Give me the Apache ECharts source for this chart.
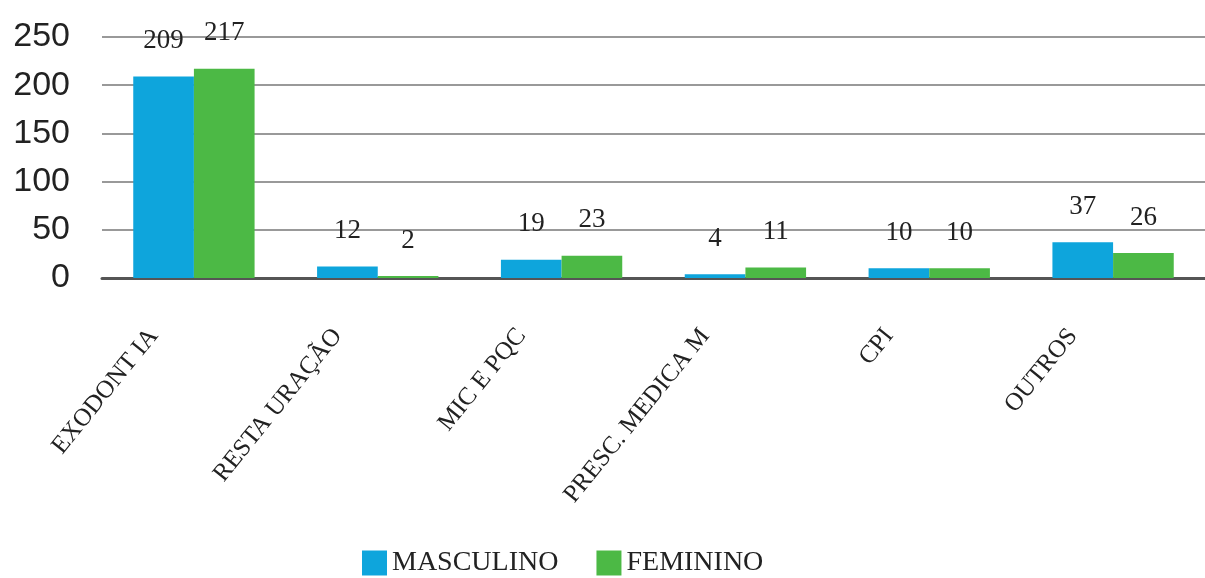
<!DOCTYPE html>
<html>
<head>
<meta charset="utf-8">
<script src="https://cdn.jsdelivr.net/npm/echarts@6/dist/echarts.min.js"></script>
<style>
  html, body { margin: 0; padding: 0; background: #fff; }
</style>
</head>
<body>
<div id="main" style="width: 1205px; height: 578px"></div>
<script>
// data
const categories = ["EXODONT IA", "RESTA URAÇÃO", "MIC E PQC", "PRESC. MEDICA M", "CPI", "OUTROS"];
const masculino = [209, 12, 19, 4, 10, 37];
const feminino = [217, 2, 23, 11, 10, 26];
const yTicks = [0, 50, 100, 150, 200, 250];

let labelStyle = {
  show: true,
  position: "top",
  distance: 22,
  fontFamily: "Liberation Serif",
  fontSize: 27,
  color: "#222"
};

let option = {
  animation: false,
  grid: { left: 102, right: 0, top: 37, bottom: 300 },
  legend: {
    bottom: -4,
    left: 357,
    itemWidth: 25,
    itemHeight: 25,
    itemGap: 38,
    icon: "rect",
    textStyle: { fontFamily: "Liberation Serif", fontSize: 28, color: "#222" },
    data: ["MASCULINO", "FEMININO"]
  },
  xAxis: {
    type: "category",
    data: categories,
    axisLine: { lineStyle: { color: "#555", width: 3 } },
    axisTick: { show: false },
    axisLabel: {
      interval: 0,
      rotate: 51,
      margin: 4,
      padding: [0, 64, 0, 0],
      fontFamily: "Liberation Serif",
      fontSize: 25,
      color: "#222"
    }
  },
  yAxis: {
    type: "value",
    min: yTicks[0],
    max: yTicks[yTicks.length - 1],
    interval: 50,
    axisLine: { show: false },
    axisTick: { show: false },
    splitLine: { lineStyle: { color: "#999", width: 2 } },
    axisLabel: {
      margin: 32,
      fontFamily: "Liberation Sans",
      fontSize: 34,
      color: "#222"
    }
  },
  series: [
    {
      name: "MASCULINO",
      type: "bar",
      data: masculino,
      barGap: "0%",
      barCategoryGap: "34%",
      itemStyle: { color: "#0ea5dc" },
      label: labelStyle
    },
    {
      name: "FEMININO",
      type: "bar",
      data: feminino,
      itemStyle: { color: "#4cb945" },
      label: labelStyle
    }
  ]
};

let myChart = echarts.init(document.getElementById("main"));
myChart.setOption(option);
</script>
</body>
</html>
